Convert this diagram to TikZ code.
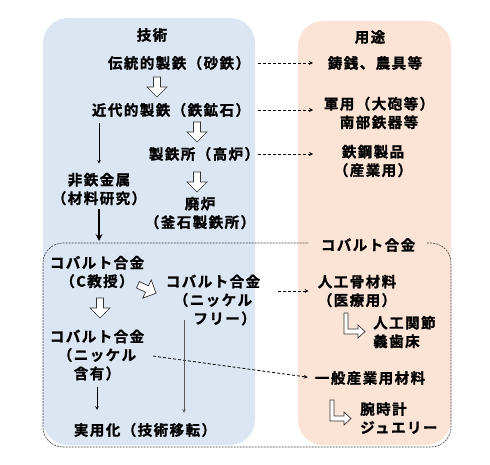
\documentclass[tikz,border=0pt]{standalone}
\usepackage{fontspec}
\newfontfamily\jpfont{Noto Sans CJK JP Bold}[LetterSpace=10,FakeBold=1.2]
\usetikzlibrary{positioning}
\definecolor{techblue}{HTML}{DCE6F2}
\definecolor{usepeach}{HTML}{FBE4D5}

\begin{document}
\begin{tikzpicture}[x=1pt,y=-1pt,>=stealth,
  txt/.style={font=\jpfont\fontsize{14.5}{18.5}\selectfont,align=center,inner sep=1pt},
  bent/.style={draw=black!80,fill=white,line width=0.7pt},
  dasharrow/.style={->,line width=0.8pt,dash pattern=on 3pt off 2pt},
  plainarrow/.style={->,line width=0.6pt},
  boxline/.style={line width=0.6pt,black!75,dash pattern=on 2pt off 1pt}]
	\useasboundingbox (0,0) rectangle (490,465);
	\fill[techblue,rounded corners=25pt] (43,18) rectangle (255,445);
	\fill[usepeach,rounded corners=25pt] (298,21) rectangle (451,445);
	\draw[boxline,rounded corners=20pt] (368,243) -| (451,447) -| (43,243) -- cycle;

	% tech side
	\node[txt] (tech) at (152,35) {技術};
	\node[txt] (dento) at (179,63) {伝統的製鉄（砂鉄）};
	\node[txt] (kindai) at (171,110) {近代的製鉄（鉄鉱石）};
	\node[txt] (seitetsu) at (204,154) {製鉄所（高炉）};
	\node[txt] (hairo) at (200,213) {廃炉\\（釜石製鉄所）};
	\node[txt] (hitetsu) at (99,189) {非鉄金属\\（材料研究）};
	\node[txt] (co1) at (97,272) {コバルト合金\\（C教授）};
	\node[txt] (co2) at (213,300) {コバルト合金\\（ニッケル\\\hspace{1.6em}フリー）};
	\node[txt] (co3) at (97,355) {コバルト合金\\（ニッケル\\含有）};
	\node[txt] (jitsuyo) at (145,430) {実用化（技術移転）};

	% hollow arrows
	\foreach \x/\y/\r in {157/87/-90, 197/132/-90, 197/182/-90, 100/308/-90, 147/289/-25}
		\draw[bent,shift={(\x,\y)},rotate=\r] (-10,-3.5) -- (0,-3.5) -- (0,-10) -- (10,0)
			-- (0,10) -- (0,3.5) -- (-10,3.5) -- cycle;

	% use side
	\node[txt] (use) at (370,37) {用途};
	\node[txt] (chuzen) at (375,63) {鋳銭、農具等};
	\node[txt] (gunyo) at (379,113) {軍用（大砲等）\\南部鉄器等};
	\node[txt] (tekko) at (373,161) {鉄鋼製品\\（産業用）};
	\node[txt,fill=usepeach,inner xsep=12pt] (cobalt) at (368,245) {コバルト合金};
	\node[txt] (jinko) at (357,291) {人工骨材料\\（医療用）};
	\node[txt,align=left,anchor=west] (kansetsu) at (372,332) {人工関節\\義歯床};
	\node[txt] (ippan) at (370,378) {一般産業用材料};
	\node[txt,align=left,anchor=west] (tokei) at (359,418) {腕時計\\ジュエリー};

	\draw[bent] (kansetsu.west) ++(-28,-19) -- ++(4,0) -- ++(0,16) -- ++(10,0) -- ++(0,-4)
		-- ++(7,6.5) -- ++(-7,6.5) -- ++(0,-4) -- ++(-14,0) -- cycle;
	\draw[bent] (tokei.west) ++(-29,-18) -- ++(4,0) -- ++(0,16) -- ++(10,0) -- ++(0,-4)
		-- ++(7,6.5) -- ++(-7,6.5) -- ++(0,-4) -- ++(-14,0) -- cycle;

	\coordinate (fromx) at (258,0);
	\coordinate (tox) at (313,0);
	\coordinate (boxtop) at (0,241);
	\coordinate (freetop) at (184,320);
	\path (fromx |- dento) edge[dasharrow] (tox |- dento)
		(fromx |- kindai) edge[dasharrow] (tox |- kindai)
		(fromx |- seitetsu) edge[dasharrow] (tox |- seitetsu)
		(kindai.south -| hitetsu) edge[plainarrow,shorten <=5pt,shorten >=8pt] (hitetsu.north)
		(hitetsu.south) edge[->,line width=2pt,shorten <=3pt] (hitetsu.south |- boxtop)
		(co2.east |- jinko) edge[dasharrow,shorten <=17pt,shorten >=8pt] (jinko.west)
		(co3.east) edge[dasharrow,shorten <=8pt,shorten >=6pt] (ippan.west)
		(co3.south) edge[plainarrow,shorten <=5pt,shorten >=12pt] (jitsuyo.north -| co3)
		(freetop) edge[plainarrow,gray!70!black,shorten >=9pt] (jitsuyo.north -| freetop);
\end{tikzpicture}
\end{document}
